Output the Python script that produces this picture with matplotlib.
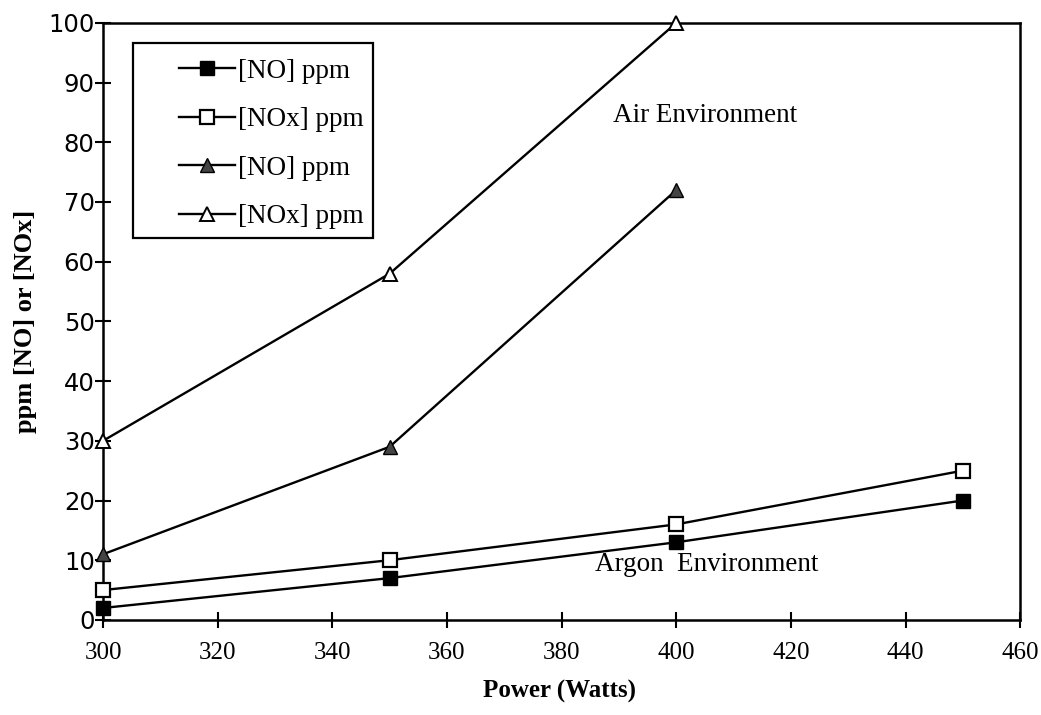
import matplotlib
matplotlib.use("Agg")
import matplotlib.pyplot as plt
from matplotlib.patches import Rectangle

power_argon = [300, 350, 400, 450]
argon_no = [2, 7, 13, 20]
argon_nox = [5, 10, 16, 25]
power_air = [300, 350, 400]
air_no = [11, 29, 72]
air_nox = [30, 58, 100]
xticks = [300, 320, 340, 360, 380, 400, 420, 440, 460]
yticks = [0, 10, 20, 30, 40, 50, 60, 70, 80, 90, 100]

serif = "Liberation Serif"
fig = plt.figure(figsize=(10.41, 7.15), dpi=100)
ax = fig.add_axes([0.099, 0.133, 0.881, 0.835])

lw = 1.7
ax.plot(power_argon, argon_no, color="black", lw=lw, marker="s", ms=10.5, mfc="black", mec="black", label="[NO] ppm", clip_on=False, zorder=3)
ax.plot(power_argon, argon_nox, color="black", lw=lw, marker="s", ms=10.5, mfc="white", mec="black", mew=1.6, label="[NOx] ppm", clip_on=False, zorder=3)
ax.plot(power_air, air_no, color="black", lw=lw, marker="^", ms=10, mfc="#444444", mec="black", label="[NO] ppm", clip_on=False, zorder=3)
ax.plot(power_air, air_nox, color="black", lw=lw, marker="^", ms=10, mfc="white", mec="black", mew=1.4, label="[NOx] ppm", clip_on=False, zorder=3)

ax.set_xlim(300, 460)
ax.set_ylim(0, 100)
ax.set_xticks(xticks)
ax.set_yticks(yticks)
ax.tick_params(direction="inout", length=12, width=1.5)
ax.tick_params(axis="x", pad=10)
ax.tick_params(axis="y", pad=0)
for lab in ax.get_xticklabels():
    lab.set_fontfamily(serif)
    lab.set_fontsize(18)
for lab in ax.get_yticklabels():
    lab.set_fontfamily("DejaVu Sans")
    lab.set_fontsize(17.5)
for s in ax.spines.values():
    s.set_linewidth(1.8)

ax.set_xlabel("Power (Watts)", fontfamily=serif, fontweight="bold", fontsize=18, va="top")
ax.xaxis.set_label_coords(0.498, -0.100)
ax.set_ylabel("ppm [NO] or [NOx]", fontfamily=serif, fontweight="bold", fontsize=19)
ax.yaxis.set_label_coords(-0.072, 0.5)

ax.text(389, 84.5, "Air Environment", fontfamily=serif, fontsize=19.5, ha="left", va="center")
ax.text(385.8, 9.3, "Argon  Environment", fontfamily=serif, fontsize=19.5, ha="left", va="center")

ax.add_patch(Rectangle((0.0327, 0.6399), 0.2617, 0.3266, transform=ax.transAxes,
                       fill=True, facecolor="white", edgecolor="black", lw=1.6, zorder=4, clip_on=False))
leg = ax.legend(loc="upper left", bbox_to_anchor=(0.0676, 0.963), prop={"family": serif, "size": 19.5},
                frameon=False, borderpad=0, labelspacing=0.87,
                handlelength=2.1, handletextpad=0.1)
leg.set_zorder(5)

fig.savefig("out.png", dpi=100)
